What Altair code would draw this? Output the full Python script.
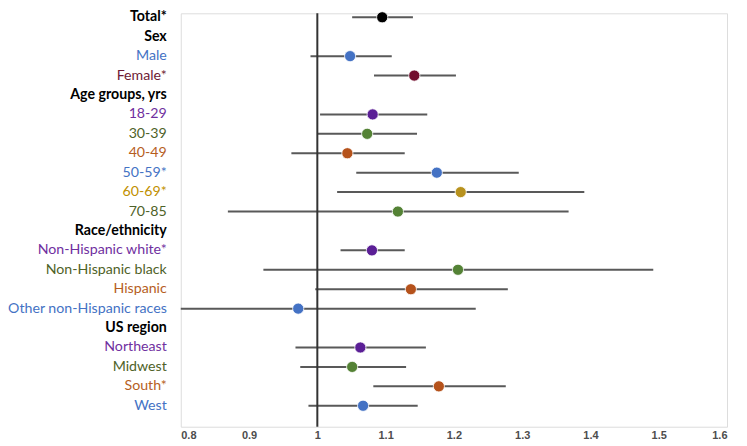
import altair as alt
import pandas as pd

labels = ["Total*", "Sex", "Male", "Female*", "Age groups, yrs", "18-29", "30-39",
          "40-49", "50-59*", "60-69*", "70-85", "Race/ethnicity", "Non-Hispanic white*",
          "Non-Hispanic black", "Hispanic", "Other non-Hispanic races", "US region",
          "Northeast", "Midwest", "South*", "West"]
is_header = [True, True, False, False, True, False, False, False, False, False, False,
             True, False, False, False, False, True, False, False, False, False]
estimate = [1.095, None, 1.048, 1.142, None, 1.081, 1.073, 1.044, 1.175, 1.210, 1.118,
            None, 1.080, 1.206, 1.137, 0.972, None, 1.063, 1.051, 1.178, 1.067]
lower = [1.051, None, 0.990, 1.083, None, 1.004, 1.000, 0.962, 1.057, 1.029, 0.869,
         None, 1.034, 0.921, 0.997, 0.797, None, 0.968, 0.975, 1.082, 0.987]
upper = [1.140, None, 1.109, 1.203, None, 1.161, 1.146, 1.128, 1.295, 1.391, 1.368,
         None, 1.128, 1.492, 1.279, 1.232, None, 1.159, 1.130, 1.276, 1.147]
dot_colors = ["#000000", None, "#4472C4", "#720E2E", None, "#5B1F96", "#548235",
              "#B5521B", "#4472C4", "#B8921E", "#548235", None, "#5B1F96", "#548235",
              "#B5521B", "#4472C4", None, "#5B1F96", "#548235", "#B5521B", "#4472C4"]
text_colors = ["#000000", "#000000", "#4472C4", "#6E1A35", "#000000", "#7030A0", "#4F6228",
               "#B65E1E", "#4472C4", "#BF9000", "#4F6228", "#000000", "#7030A0", "#4F6228",
               "#B65E1E", "#4472C4", "#000000", "#7030A0", "#4F6228", "#B65E1E", "#4472C4"]
x_ticks = [0.8, 0.9, 1.0, 1.1, 1.2, 1.3, 1.4, 1.5, 1.6]
ref_value = [1.0]

df = pd.DataFrame({
    "idx": list(range(len(labels))),
    "label": labels,
    "header": is_header,
    "est": estimate,
    "lo": lower,
    "hi": upper,
    "dcolor": dot_colors,
    "tcolor": text_colors,
})

yscale = alt.Scale(domain=[-0.206, 21.08], reverse=True, nice=False, zero=False)
xscale = alt.Scale(domain=[0.8, 1.6], nice=False, zero=False, clamp=True)

base = alt.Chart(df)

xaxis = alt.Axis(values=x_ticks, format="~g", domain=False, ticks=False, grid=False,
                 labelFont="Liberation Sans", labelFontSize=11, labelFontWeight="bold",
                 labelColor="#4D4D4D", labelPadding=3, title=None)

ci = base.transform_filter("datum.est != null").mark_rule(
    color="#595959", strokeWidth=2
).encode(
    x=alt.X("lo:Q", scale=xscale, axis=xaxis),
    x2="hi:Q",
    y=alt.Y("idx:Q", scale=yscale, axis=None),
)

ref = alt.Chart(pd.DataFrame({"v": ref_value})).mark_rule(
    color="#333333", strokeWidth=2
).encode(x=alt.X("v:Q", scale=xscale))

pts = base.transform_filter("datum.est != null").mark_circle(
    size=125, opacity=1, stroke="white", strokeWidth=0.8
).encode(
    x=alt.X("est:Q", scale=xscale),
    y=alt.Y("idx:Q", scale=yscale),
    color=alt.Color("dcolor:N", scale=None),
)

txt_norm = base.transform_filter("!datum.header").mark_text(
    align="right", baseline="middle", font="Lato", fontSize=14.2
).encode(
    x=alt.value(-14),
    y=alt.Y("idx:Q", scale=yscale),
    text="label:N",
    color=alt.Color("tcolor:N", scale=None),
)

txt_head = base.transform_filter("datum.header").mark_text(
    align="right", baseline="middle", font="Lato", fontSize=14.2, fontWeight="bold"
).encode(
    x=alt.value(-14),
    y=alt.Y("idx:Q", scale=yscale),
    text="label:N",
    color=alt.Color("tcolor:N", scale=None),
)

chart = alt.layer(ci, ref, pts, txt_norm, txt_head).properties(
    width=547, height=414,
    autosize=alt.AutoSizeParams(type="none"),
    padding={"left": 173, "top": 5, "right": 12, "bottom": 16},
).configure_view(stroke=None).configure(background="white")

chart.save("out.html", embed_options={"renderer": "svg", "actions": False})
